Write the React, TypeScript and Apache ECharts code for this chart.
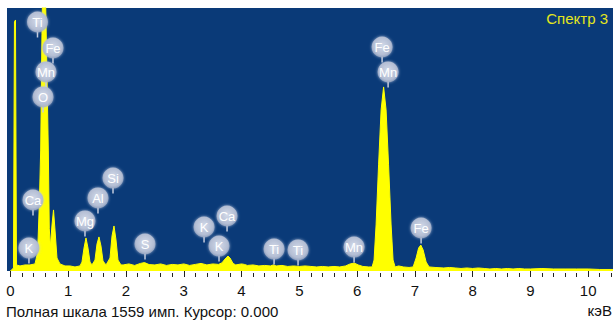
import React, { useEffect, useRef } from 'react';
import * as echarts from 'echarts';

// Spectrum (energy in keV, counts)
const energies = [
  0, 0.052, 0.069, 0.087, 0.104, 0.165, 0.251, 0.338, 0.424, 0.47, 0.5, 0.523, 0.545, 0.56, 0.6,
  0.625, 0.655, 0.672, 0.69, 0.719, 0.745, 0.771, 0.805, 0.857, 0.944, 1.03, 1.117, 1.203,
  1.238, 1.273, 1.307, 1.342, 1.377, 1.411, 1.463, 1.498, 1.532, 1.567, 1.602, 1.654,
  1.723, 1.758, 1.792, 1.827, 1.861, 1.913,
  1.95, 2.05, 2.15, 2.25, 2.32, 2.4, 2.5, 2.6, 2.7, 2.8, 2.9, 3.0, 3.1, 3.2, 3.3, 3.4, 3.5, 3.6,
  3.66, 3.714, 3.766, 3.8, 3.853, 3.9, 4.0, 4.05, 4.1, 4.2, 4.3, 4.4, 4.5, 4.55, 4.6, 4.7, 4.8,
  4.9, 5.0, 5.1, 5.2, 5.3, 5.4, 5.5, 5.6, 5.7, 5.8, 5.88, 5.95, 6.02, 6.1, 6.2,
  6.26, 6.294, 6.329, 6.372, 6.416, 6.459, 6.502, 6.545, 6.589, 6.623, 6.658, 6.72, 6.8, 6.9,
  6.97, 7.022, 7.065, 7.103, 7.143, 7.195, 7.247, 7.35, 7.5, 7.6, 7.7, 7.8, 7.9, 8.0, 8.1,
  8.2, 8.3, 8.4, 8.5, 8.6, 8.7, 8.8, 8.9, 9.0, 9.2, 9.4, 9.6, 9.8, 10.0, 10.2, 10.43,
];
const counts = [
  0, 18, 1476, 1488, 36, 30, 36, 36, 42, 110, 400, 717, 1400, 1750, 1750,
  1300, 717, 250, 142, 273, 362, 243, 77, 42, 30, 30, 24, 30,
  53, 136, 196, 136, 53, 36, 65, 160, 202, 148, 59, 36,
  77, 208, 267, 184, 65, 36,
  36, 42, 33, 45, 50, 38, 36, 42, 33, 39, 36, 42, 33, 39, 45, 36, 42, 39,
  48, 71, 89, 77, 45, 36, 42, 39, 33, 36, 30, 33, 30, 36, 30, 33, 27,
  30, 27, 30, 27, 24, 27, 24, 27, 24, 30, 42, 47, 36, 27, 24,
  24, 65, 273, 629, 955, 1091, 955, 629, 273, 65, 24, 30, 24, 21,
  24, 77, 136, 154, 125, 53, 24, 21, 18, 21, 18, 15, 18, 15, 18,
  15, 12, 15, 12, 15, 12, 15, 12, 12, 15, 12, 12, 12, 12, 9, 9,
];

// Element markers
const markerElements = ['Ti', 'Fe', 'Mn', 'O', 'Ca', 'K', 'Mg', 'Al', 'Si', 'S', 'K', 'Ca', 'K', 'Ti', 'Ti', 'Mn', 'Fe', 'Mn', 'Fe'];
const markerEnergies = [0.468, 0.736, 0.615, 0.563, 0.39, 0.32, 1.29, 1.515, 1.775, 2.329, 3.351, 3.749, 3.61, 4.563, 4.978, 5.948, 6.433, 6.537, 7.108];
const markerLevels = [1476, 1322, 1180, 1032, 421, 136, 297, 433, 551, 160, 261, 326, 148, 130, 125, 142, 1328, 1180, 255];

const majorTicks = [0, 1, 2, 3, 4, 5, 6, 7, 8, 9, 10];
const minorTicks = [
  0.2, 0.4, 0.6, 0.8, 1.2, 1.4, 1.6, 1.8, 2.2, 2.4, 2.6, 2.8, 3.2, 3.4, 3.6, 3.8,
  4.2, 4.4, 4.6, 4.8, 5.2, 5.4, 5.6, 5.8, 6.2, 6.4, 6.6, 6.8, 7.2, 7.4, 7.6, 7.8,
  8.2, 8.4, 8.6, 8.8, 9.2, 9.4, 9.6, 9.8, 10.2, 10.4,
];

const fullScale = 1559;
const spectrumTitle = 'Спектр 3';
const footerText = 'Полная шкала 1559 имп. Курсор: 0.000';
const unitText = 'кэВ';

const FONT = '"Liberation Sans", Arial, sans-serif';

export default function App() {
  const ref = useRef<HTMLDivElement>(null);

  useEffect(() => {
    document.body.style.margin = '0';
    const chart = echarts.init(ref.current!, null, { renderer: 'svg' });
    const xMin = -0.06;
    const xMax = 10.43;
    const bubbleFill = new echarts.graphic.RadialGradient(0.5, 0.45, 0.55, [
      { offset: 0, color: '#d3dae9' },
      { offset: 0.75, color: '#b4bed4' },
      { offset: 1, color: 'rgba(160,172,198,0.7)' },
    ]);

    chart.setOption({
      animation: false,
      backgroundColor: '#ffffff',
      grid: {
        left: 7,
        right: 1,
        top: 8,
        bottom: 49,
        show: true,
        backgroundColor: '#0a3a78',
        borderWidth: 0,
      },
      xAxis: [
        {
          type: 'value',
          min: xMin,
          max: xMax,
          offset: 2,
          axisLine: { show: false },
          splitLine: { show: false },
          axisTick: { show: true, customValues: majorTicks, length: 6, lineStyle: { color: '#222', width: 1 } },
          axisLabel: {
            customValues: majorTicks,
            margin: 10,
            color: '#111',
            fontSize: 15,
            fontFamily: FONT,
          },
        },
        {
          type: 'value',
          min: xMin,
          max: xMax,
          offset: 2,
          position: 'bottom',
          axisLine: { show: false },
          splitLine: { show: false },
          axisTick: { show: true, customValues: minorTicks, length: 4, lineStyle: { color: '#222', width: 1 } },
          axisLabel: { show: false },
        },
      ],
      yAxis: {
        type: 'value',
        min: 0,
        max: fullScale,
        show: false,
        splitLine: { show: false },
      },
      series: [
        {
          type: 'line',
          xAxisIndex: 0,
          data: energies.map((e, i) => [e, counts[i]]),
          symbol: 'none',
          clip: true,
          lineStyle: { color: '#ffff00', width: 1 },
          areaStyle: { color: '#ffff00', opacity: 1 },
          z: 2,
        },
        {
          type: 'custom',
          xAxisIndex: 0,
          coordinateSystem: 'cartesian2d',
          data: markerEnergies.map((e, i) => [e, markerLevels[i]]),
          encode: { x: 0, y: 1 },
          z: 5,
          renderItem: (params: any, api: any) => {
            const p = api.coord([api.value(0), api.value(1)]);
            const r = 10.5;
            return {
              type: 'group',
              children: [
                {
                  type: 'line',
                  shape: { x1: p[0], y1: p[1] + r - 1, x2: p[0], y2: p[1] + r + 5 },
                  style: { stroke: '#c3cbdd', lineWidth: 1.5 },
                },
                {
                  type: 'circle',
                  shape: { cx: p[0], cy: p[1], r },
                  style: { fill: bubbleFill, shadowBlur: 3, shadowColor: 'rgba(200,210,230,0.8)' },
                },
                {
                  type: 'text',
                  style: {
                    x: p[0],
                    y: p[1] + 0.5,
                    text: markerElements[params.dataIndex],
                    fill: '#ffffff',
                    font: '13px ' + FONT,
                    align: 'center',
                    verticalAlign: 'middle',
                  },
                },
              ],
            };
          },
        },
      ],
      graphic: [
        {
          type: 'text',
          right: 6,
          top: 11,
          style: { text: spectrumTitle, fill: '#e4e61c', font: '15px ' + FONT },
          z: 10,
        },
        {
          type: 'text',
          left: 6,
          top: 304,
          style: { text: footerText, fill: '#111', font: '15px ' + FONT },
        },
        {
          type: 'text',
          right: 2,
          top: 303,
          style: { text: unitText, fill: '#111', font: '15px ' + FONT },
        },
      ],
    });

    return () => chart.dispose();
  }, []);

  return <div ref={ref} style={{ width: 614, height: 320 }} />;
}
